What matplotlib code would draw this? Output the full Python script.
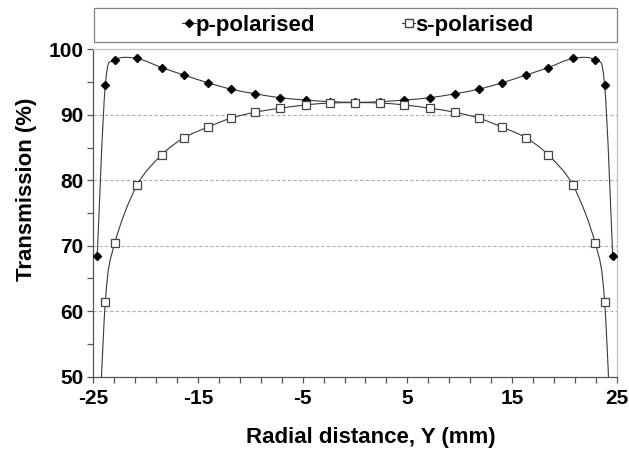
import matplotlib
matplotlib.use("Agg")
import matplotlib.pyplot as plt
import numpy as np
from matplotlib.path import Path
from matplotlib.patches import PathPatch, Rectangle
from matplotlib.lines import Line2D
from matplotlib.ticker import MultipleLocator

plt.rcParams['font.family'] = ['Liberation Sans', 'DejaVu Sans']
plt.rcParams['font.weight'] = 'bold'

# radial positions (mm), symmetric about the axis
y_half = [24.62, 23.85, 22.95, 20.84, 18.45, 16.31, 14.08, 11.81, 9.51, 7.12, 4.72, 2.35]
p_half = [68.5, 94.5, 98.3, 98.6, 97.2, 96.05, 94.9, 93.9, 93.2, 92.6, 92.25, 92.0]
s_half = [34.0, 61.4, 70.4, 79.2, 83.9, 86.5, 88.1, 89.5, 90.4, 91.0, 91.5, 91.8]
p_centre = 91.9
s_centre = 91.85

radial = np.array([-v for v in y_half] + [0.0] + y_half[::-1])
p_pol = np.array(p_half + [p_centre] + p_half[::-1])
s_pol = np.array(s_half + [s_centre] + s_half[::-1])


def smooth_path(x, y):
    # Excel-style smoothed line: cubic Bezier segments through every point
    pts = np.column_stack([x, y])
    ext = np.vstack([pts[0], pts, pts[-1]])
    verts = [pts[0]]
    codes = [Path.MOVETO]
    for i in range(len(pts) - 1):
        p0, p1, p2, p3 = ext[i], ext[i + 1], ext[i + 2], ext[i + 3]
        verts += [p1 + (p2 - p0) / 6.0, p2 - (p3 - p1) / 6.0, p2]
        codes += [Path.CURVE4] * 3
    return Path(verts, codes)


fig = plt.figure(figsize=(6.29, 4.53), dpi=100)
ax = fig.add_axes([0.1483, 0.1684, 0.9804 - 0.1483, 0.8912 - 0.1684])

line_col = '#3a3a3a'
ax.add_patch(PathPatch(smooth_path(radial, p_pol), fill=False, ec=line_col, lw=0.8, zorder=3))
ax.plot(radial, p_pol, ls='none', marker='D', ms=4.3, mfc='black', mec='black', zorder=4)
ax.add_patch(PathPatch(smooth_path(radial, s_pol), fill=False, ec=line_col, lw=0.8, zorder=5))
ax.plot(radial, s_pol, ls='none', marker='s', ms=5.6, mfc='white', mec='#444444', mew=0.9, zorder=6)

ax.set_xlim(-25, 25)
ax.set_ylim(50, 100)
ax.xaxis.set_major_locator(MultipleLocator(10, offset=5))
ax.xaxis.set_minor_locator(MultipleLocator(2, offset=1))
ax.yaxis.set_major_locator(MultipleLocator(10))
ax.yaxis.set_minor_locator(MultipleLocator(5))
ax.set_xticks(np.arange(-25, 26, 10))
ax.set_xticklabels(['-25', '-15', '-5', '5', '15', '25'])

ax.tick_params(which='both', direction='out', length=4, width=0.9, color='#555555',
               labelsize=15)
ax.tick_params(axis='x', pad=5)
ax.tick_params(axis='y', pad=3)
for lab in ax.get_xticklabels() + ax.get_yticklabels():
    lab.set_fontweight('bold')

for gy in [60, 70, 80, 90]:
    ax.axhline(gy, color='#b0b0b0', lw=0.8, ls=(0, (3, 2)), zorder=1)

ax.spines['left'].set_color('#555555')
ax.spines['bottom'].set_color('#555555')
ax.spines['top'].set_color('#c0c0c0')
ax.spines['right'].set_color('#c0c0c0')
for sp in ax.spines.values():
    sp.set_linewidth(0.9)

ax.set_xlabel('Radial distance, Y (mm)', fontsize=16, fontweight='bold')
ax.set_ylabel('Transmission (%)', fontsize=16, fontweight='bold')
ax.xaxis.set_label_coords(0.53, -0.155)
ax.yaxis.set_label_coords(-0.108, 0.572)

# legend box above the plot area
fig.patches.append(Rectangle((94 / 629, 1 - 42.3 / 453), (616.7 - 94) / 629, 34 / 453,
                             transform=fig.transFigure, fill=False, ec='#808080', lw=0.9))
handles = [
    Line2D([], [], color=line_col, lw=0.8, marker='D', ms=4.3, mfc='black', mec='black'),
    Line2D([], [], color=line_col, lw=0.8, marker='s', ms=5.6, mfc='white', mec='#444444'),
]
fig.legend(handles, ['p-polarised', 's-polarised'], ncol=2, frameon=False,
           loc='center', bbox_to_anchor=(358 / 629, 1 - 25.5 / 453),
           prop={'size': 16, 'weight': 'bold'}, handlelength=0.6, handletextpad=0.0,
           columnspacing=3.9, borderpad=0)

fig.savefig('out.png', dpi=100)
